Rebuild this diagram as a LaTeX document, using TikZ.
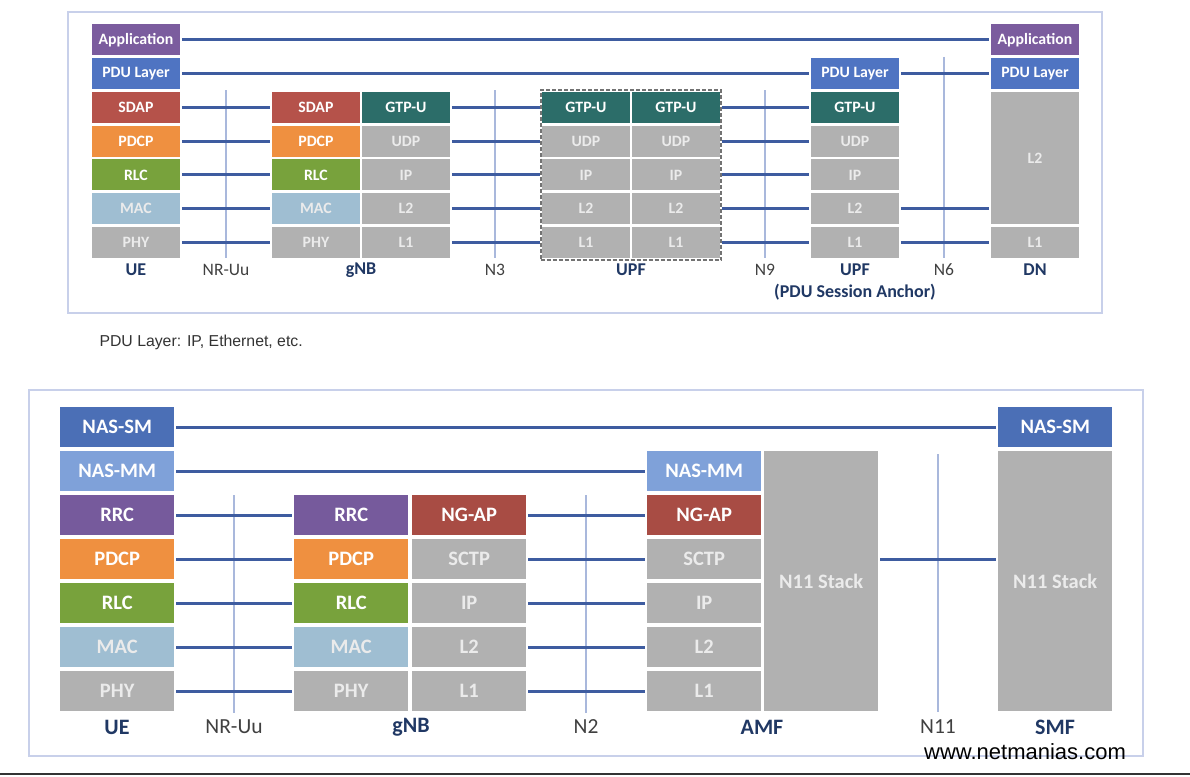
\documentclass[tikz,border=0pt]{standalone}
\usepackage{fontspec}
\setmainfont{Carlito}
\newfontfamily\arialfont{Liberation Sans}
\usetikzlibrary{fit}
\definecolor{cApp}{HTML}{7B5C9E}
\definecolor{cPDU}{HTML}{4F74C2}
\definecolor{cSDAP}{HTML}{B5524A}
\definecolor{cPDCP}{HTML}{EF9040}
\definecolor{cRLC}{HTML}{78A23C}
\definecolor{cMAC}{HTML}{9FBED2}
\definecolor{cGray}{HTML}{B1B1B1}
\definecolor{cGTP}{HTML}{2C6D69}
\definecolor{cNASSM}{HTML}{4B6FB6}
\definecolor{cNASMM}{HTML}{7FA1D9}
\definecolor{cRRC}{HTML}{765A9C}
\definecolor{cNGAP}{HTML}{A84C44}
\definecolor{cLink}{HTML}{3E5CA0}
\definecolor{cRef}{HTML}{A9B8DC}
\definecolor{cFrame}{HTML}{C8D0EA}
\definecolor{cEnt}{HTML}{203864}
\definecolor{cIf}{HTML}{404040}
\begin{document}
\begin{tikzpicture}[x=1pt,y=-1pt,
  lt/.style={draw=none,inner sep=0pt,anchor=north west,minimum width=87.5pt,minimum height=31pt,
    text=white,font=\fontsize{15.8}{17}\selectfont\bfseries},
  lb/.style={draw=none,inner sep=0pt,anchor=north west,minimum width=114pt,minimum height=40pt,
    text=white,font=\fontsize{20.5}{22}\selectfont\bfseries},
  gtxt/.style={text=white!92!black},
  link/.style={draw=cLink,line width=3pt,shorten <=2pt,shorten >=2pt},
  refline/.style={draw=cRef,line width=1.1pt},
  frame/.style={draw=cFrame,line width=1.5pt},
  dashbox/.style={draw=black!55,line width=2pt,inner sep=1.5pt,dash pattern=on 4pt off 2pt},
  entT/.style={text=cEnt,font=\fontsize{18}{20}\selectfont\bfseries},
  ifT/.style={text=cIf,font=\fontsize{17.5}{20}\selectfont},
  entB/.style={text=cEnt,font=\fontsize{22}{24}\selectfont\bfseries},
  ifB/.style={text=cIf,font=\fontsize{21.5}{24}\selectfont}
]
\useasboundingbox (0,0) rectangle (1190,776);
\fill[white] (0,0) rectangle (1190,776);
% frames
\draw[frame] (68,12) rectangle (1102,313);
\draw[frame] (29,390) rectangle (1143,756);
\draw[black!80,line width=2pt] (0,774) -- (1190,774);

% ---------- TOP ----------
% UE
\node[lt,fill=cApp]  (ueApp)  at (92,24)    {Application};
\node[lt,fill=cPDU]  (uePDU)  at (92,57.8)  {PDU Layer};
\node[lt,fill=cSDAP] (ueSDAP) at (92,91.6)  {SDAP};
\node[lt,fill=cPDCP] (uePDCP) at (92,125.4) {PDCP};
\node[lt,fill=cRLC]  (ueRLC)  at (92,159.2) {RLC};
\node[lt,fill=cMAC,gtxt]  (ueMAC)  at (92,193)   {MAC};
\node[lt,fill=cGray,gtxt] (uePHY) at (92,226.8) {PHY};
% gNB
\node[lt,fill=cSDAP] (gSDAP) at (272,91.6)  {SDAP};
\node[lt,fill=cPDCP] (gPDCP) at (272,125.4) {PDCP};
\node[lt,fill=cRLC]  (gRLC)  at (272,159.2) {RLC};
\node[lt,fill=cMAC,gtxt]  (gMAC)  at (272,193)   {MAC};
\node[lt,fill=cGray,gtxt] (gPHY)  at (272,226.8) {PHY};
\node[lt,fill=cGTP]  (gGTP)  at (362,91.6)  {GTP-U};
\node[lt,fill=cGray,gtxt] (gUDP) at (362,125.4) {UDP};
\node[lt,fill=cGray,gtxt] (gIP)  at (362,159.2) {IP};
\node[lt,fill=cGray,gtxt] (gL2)  at (362,193)   {L2};
\node[lt,fill=cGray,gtxt] (gL1)  at (362,226.8) {L1};
% UPF (intermediate)
\node[lt,fill=cGTP]  (aGTP) at (542,91.6)  {GTP-U};
\node[lt,fill=cGray,gtxt] (aUDP) at (542,125.4) {UDP};
\node[lt,fill=cGray,gtxt] (aIP)  at (542,159.2) {IP};
\node[lt,fill=cGray,gtxt] (aL2)  at (542,193)   {L2};
\node[lt,fill=cGray,gtxt] (aL1)  at (542,226.8) {L1};
\node[lt,fill=cGTP]  (bGTP) at (632,91.6)  {GTP-U};
\node[lt,fill=cGray,gtxt] (bUDP) at (632,125.4) {UDP};
\node[lt,fill=cGray,gtxt] (bIP)  at (632,159.2) {IP};
\node[lt,fill=cGray,gtxt] (bL2)  at (632,193)   {L2};
\node[lt,fill=cGray,gtxt] (bL1)  at (632,226.8) {L1};
\node[dashbox,fit=(aGTP)(bL1)] (upfBox) {};
% UPF PSA
\node[lt,fill=cPDU]  (pPDU) at (811,57.8)  {PDU Layer};
\node[lt,fill=cGTP]  (pGTP) at (811,91.6)  {GTP-U};
\node[lt,fill=cGray,gtxt] (pUDP) at (811,125.4) {UDP};
\node[lt,fill=cGray,gtxt] (pIP)  at (811,159.2) {IP};
\node[lt,fill=cGray,gtxt] (pL2)  at (811,193)   {L2};
\node[lt,fill=cGray,gtxt] (pL1)  at (811,226.8) {L1};
% DN
\node[lt,fill=cApp]  (dApp) at (991,24)   {Application};
\node[lt,fill=cPDU]  (dPDU) at (991,57.8) {PDU Layer};
\node[lt,fill=cGray,gtxt,minimum height=132.4pt] (dL2) at (991,91.6) {L2};
\node[lt,fill=cGray,gtxt] (dL1) at (991,226.8) {L1};

% reference lines
\draw[refline] (226,90) -- (226,258);
\draw[refline] (495,90) -- (495,258);
\draw[refline] (765,90) -- (765,258);
\draw[refline] (944,57) -- (944,258);

% links
\draw[link] (ueApp) -- (dApp);
\draw[link] (uePDU) -- (pPDU);
\draw[link] (pPDU) -- (dPDU);
\foreach \a/\b in {ueSDAP/gSDAP,uePDCP/gPDCP,ueRLC/gRLC,ueMAC/gMAC,uePHY/gPHY,
  gGTP/aGTP,gUDP/aUDP,gIP/aIP,gL2/aL2,gL1/aL1,
  bGTP/pGTP,bUDP/pUDP,bIP/pIP,bL2/pL2,bL1/pL1,pL1/dL1}
  \draw[link] (\a) -- (\b);
\draw[link] (pL2.east) -- (pL2.east -| dL2.west);

% labels
\node[entT] (lUE)  at (136,270) {UE};
\node[ifT]  (lNR)  at (226,270) {NR-Uu};
\node[entT] (lgNB) at (361,270) {gNB};
\node[ifT]  (lN3)  at (495,270) {N3};
\node[entT] (lUPF) at (631,270) {UPF};
\node[ifT]  (lN9)  at (765,270) {N9};
\node[entT] (lPSA) at (855,270) {UPF};
\node[entT] (lPSA2) at (855,292) {(PDU Session Anchor)};
\node[ifT]  (lN6)  at (944,270) {N6};
\node[entT] (lDN)  at (1035,270) {DN};

\node[anchor=west,text=black!80,font=\arialfont\fontsize{15.8}{18}\selectfont] (note) at (96,342) {PDU Layer: IP, Ethernet, etc.};

% ---------- BOTTOM ----------
\node[lb,fill=cNASSM] (uNASSM) at (60,407) {NAS-SM};
\node[lb,fill=cNASMM] (uNASMM) at (60,451) {NAS-MM};
\node[lb,fill=cRRC]   (uRRC)   at (60,495) {RRC};
\node[lb,fill=cPDCP]  (uPDCP)  at (60,539) {PDCP};
\node[lb,fill=cRLC]   (uRLC)   at (60,583) {RLC};
\node[lb,fill=cMAC,gtxt]  (uMAC) at (60,627) {MAC};
\node[lb,fill=cGray,gtxt] (uPHY) at (60,671) {PHY};

\node[lb,fill=cRRC]   (nRRC)  at (294,495) {RRC};
\node[lb,fill=cPDCP]  (nPDCP) at (294,539) {PDCP};
\node[lb,fill=cRLC]   (nRLC)  at (294,583) {RLC};
\node[lb,fill=cMAC,gtxt]  (nMAC) at (294,627) {MAC};
\node[lb,fill=cGray,gtxt] (nPHY) at (294,671) {PHY};
\node[lb,fill=cNGAP]  (nNGAP) at (412,495) {NG-AP};
\node[lb,fill=cGray,gtxt] (nSCTP) at (412,539) {SCTP};
\node[lb,fill=cGray,gtxt] (nIP)   at (412,583) {IP};
\node[lb,fill=cGray,gtxt] (nL2)   at (412,627) {L2};
\node[lb,fill=cGray,gtxt] (nL1)   at (412,671) {L1};

\node[lb,fill=cNASMM] (mNASMM) at (647,451) {NAS-MM};
\node[lb,fill=cNGAP]  (mNGAP)  at (647,495) {NG-AP};
\node[lb,fill=cGray,gtxt] (mSCTP) at (647,539) {SCTP};
\node[lb,fill=cGray,gtxt] (mIP)   at (647,583) {IP};
\node[lb,fill=cGray,gtxt] (mL2)   at (647,627) {L2};
\node[lb,fill=cGray,gtxt] (mL1)   at (647,671) {L1};
\node[lb,fill=cGray,gtxt,minimum height=260pt] (mN11) at (764,451) {N11 Stack};

\node[lb,fill=cNASSM] (sNASSM) at (998,407) {NAS-SM};
\node[lb,fill=cGray,gtxt,minimum height=260pt] (sN11) at (998,451) {N11 Stack};

\draw[refline] (234,495) -- (234,713);
\draw[refline] (586,495) -- (586,713);
\draw[refline] (938,454) -- (938,712);

\draw[link] (uNASSM) -- (sNASSM);
\draw[link] (uNASMM) -- (mNASMM);
\foreach \a/\b in {uRRC/nRRC,uPDCP/nPDCP,uRLC/nRLC,uMAC/nMAC,uPHY/nPHY,
  nNGAP/mNGAP,nSCTP/mSCTP,nIP/mIP,nL2/mL2,nL1/mL1}
  \draw[link] (\a) -- (\b);
\draw[link] (mN11.east |- mSCTP) -- (sN11.west |- mSCTP);

\node[entB] (bUE)  at (117,727) {UE};
\node[ifB]  (bNR)  at (234,727) {NR-Uu};
\node[entB] (bgNB) at (411,727) {gNB};
\node[ifB]  (bN2)  at (586,727) {N2};
\node[entB] (bAMF) at (762,727) {AMF};
\node[ifB]  (bN11) at (938,727) {N11};
\node[entB] (bSMF) at (1055,727) {SMF};

\node[text=black,font=\arialfont\fontsize{22}{24}\selectfont] (web) at (1025,752) {www.netmanias.com};
\end{tikzpicture}
\end{document}
